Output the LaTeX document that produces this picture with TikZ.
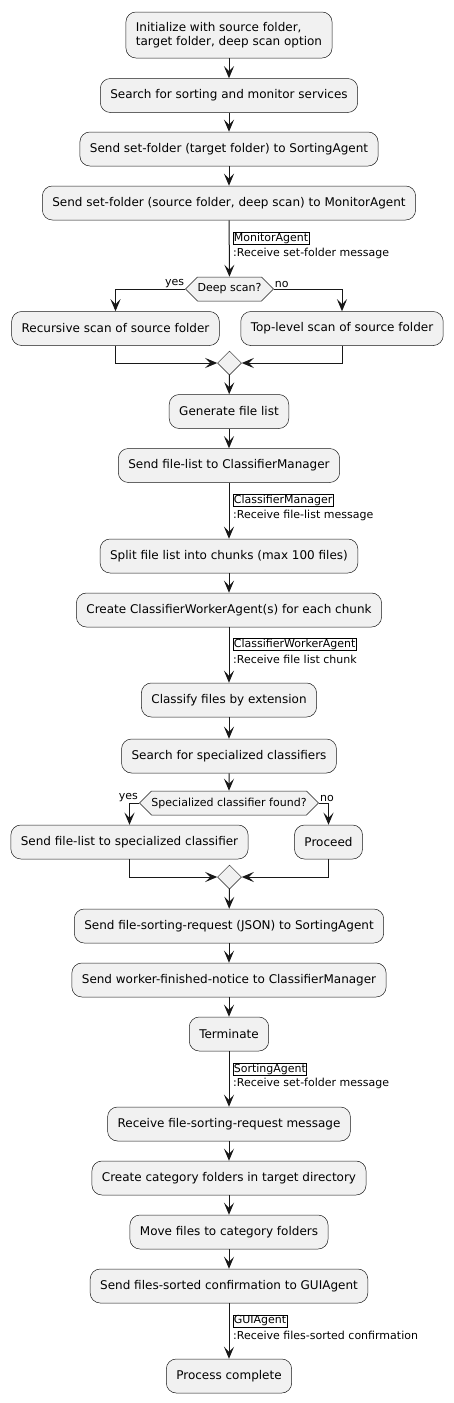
\documentclass[tikz,border=0pt]{standalone}
\usepackage{fontspec}
\setmainfont{DejaVu Sans}
\usepackage{xcolor}
\usepackage{tikz}
\usetikzlibrary{shapes,arrows,positioning,calc,arrows.meta}

\definecolor{actfill}{HTML}{F1F1F1}
\definecolor{actline}{HTML}{181818}

\tikzset{
    act/.style={draw=actline, line width=0.5pt, fill=actfill, rounded corners=10pt,
        minimum height=34pt, inner xsep=10pt, inner ysep=0pt, font=\fontsize{12}{14}\selectfont},
    decide/.style={signal, signal to=west and east, draw=actline, line width=0.5pt, fill=actfill,
        minimum height=24pt, inner xsep=0pt, inner ysep=0pt, font=\fontsize{11}{13}\selectfont},
    merge/.style={diamond, draw=actline, line width=0.5pt, fill=actfill,
        minimum width=24pt, minimum height=24pt, inner sep=0pt},
    flow/.style={draw=actline, line width=1pt, -{Stealth[length=12pt,width=10pt,inset=5pt]}},
    agent/.style={draw=black, line width=0.5pt, inner sep=0.6pt, anchor=west, font=\fontsize{11}{13}\selectfont},
    recv/.style={inner sep=0pt, anchor=west, font=\fontsize{11}{13}\selectfont},
    branch/.style={inner sep=1pt, font=\fontsize{11}{13}\selectfont}
}

\begin{document}
\begin{tikzpicture}[x=1pt, y=-1pt]
    \useasboundingbox (0,0) rectangle (454,1403);

    % Start and set-folder messages
    \node[act, align=left, minimum height=46pt] (init) at (229,35) {Initialize with source folder,\\target folder, deep scan option};
    \node[act] (services) at (229,95.5) {Search for sorting and monitor services};
    \node[act] (settarget) at (229,149) {Send set-folder (target folder) to SortingAgent};
    \node[act] (setsource) at (229,203) {Send set-folder (source folder, deep scan) to MonitorAgent};
    \draw[flow] (init) -- (services);
    \draw[flow] (services) -- (settarget);
    \draw[flow] (settarget) -- (setsource);

    % MonitorAgent
    \node[agent] (lbmonitor) at (233,238) {MonitorAgent};
    \node[recv] (rcmonitor) at (233,253) {:Receive set-folder message};
    \node[decide] (deepscan) at (229.5,289) {Deep scan?};
    \draw[flow] (setsource) -- (deepscan);
    \node[branch, anchor=south east] at (deepscan.west) {yes};
    \node[branch, anchor=south west] at (deepscan.east) {no};
    \node[act] (recscan) at (115.5,328.5) {Recursive scan of source folder};
    \node[act] (topscan) at (342,328.5) {Top-level scan of source folder};
    \node[merge] (scanmerge) at (229.5,363) {};
    \draw[flow] (deepscan.west) -| (recscan.north);
    \draw[flow] (deepscan.east) -| (topscan.north);
    \draw[flow] (recscan.south) |- (scanmerge.west);
    \draw[flow] (topscan.south) |- (scanmerge.east);
    \node[act] (genlist) at (229,411.5) {Generate file list};
    \node[act] (sendlist) at (229,465.5) {Send file-list to ClassifierManager};
    \draw[flow] (scanmerge) -- (genlist);
    \draw[flow] (genlist) -- (sendlist);

    % ClassifierManager
    \node[agent] (lbmanager) at (233,500) {ClassifierManager};
    \node[recv] (rcmanager) at (233,515) {:Receive file-list message};
    \node[act] (split) at (229,556) {Split file list into chunks (max 100 files)};
    \node[act] (workers) at (229,610) {Create ClassifierWorkerAgent(s) for each chunk};
    \draw[flow] (sendlist) -- (split);
    \draw[flow] (split) -- (workers);

    % ClassifierWorkerAgent
    \node[agent] (lbworker) at (233,644.5) {ClassifierWorkerAgent};
    \node[recv] (rcworker) at (233,659) {:Receive file list chunk};
    \node[act] (classify) at (229,700) {Classify files by extension};
    \node[act] (findspec) at (229,756) {Search for specialized classifiers};
    \node[decide] (specfound) at (229,803) {Specialized classifier found?};
    \draw[flow] (workers) -- (classify);
    \draw[flow] (classify) -- (findspec);
    \draw[flow] (findspec) -- (specfound);
    \node[branch, anchor=south east] at (specfound.west) {yes};
    \node[branch, anchor=south west] at (specfound.east) {no};
    \node[act] (sendspec) at (129.5,842) {Send file-list to specialized classifier};
    \node[act] (proceed) at (328.5,842) {Proceed};
    \node[merge] (specmerge) at (229.5,877) {};
    \draw[flow] (specfound.west) -| (sendspec.north);
    \draw[flow] (specfound.east) -| (proceed.north);
    \draw[flow] (sendspec.south) |- (specmerge.west);
    \draw[flow] (proceed.south) |- (specmerge.east);
    \node[act] (sortreq) at (229,926) {Send file-sorting-request (JSON) to SortingAgent};
    \node[act] (finished) at (229,980) {Send worker-finished-notice to ClassifierManager};
    \node[act] (terminate) at (229,1034) {Terminate};
    \draw[flow] (specmerge) -- (sortreq);
    \draw[flow] (sortreq) -- (finished);
    \draw[flow] (finished) -- (terminate);

    % SortingAgent
    \node[agent] (lbsorting) at (233,1069) {SortingAgent};
    \node[recv] (rcsorting) at (233,1083) {:Receive set-folder message};
    \node[act] (getreq) at (229,1124) {Receive file-sorting-request message};
    \node[act] (mkfolders) at (229,1178) {Create category folders in target directory};
    \node[act] (movefiles) at (229,1232) {Move files to category folders};
    \node[act] (confirm) at (229,1286) {Send files-sorted confirmation to GUIAgent};
    \draw[flow] (terminate) -- (getreq);
    \draw[flow] (getreq) -- (mkfolders);
    \draw[flow] (mkfolders) -- (movefiles);
    \draw[flow] (movefiles) -- (confirm);

    % GUIAgent
    \node[agent] (lbgui) at (233,1321) {GUIAgent};
    \node[recv] (rcgui) at (233,1335) {:Receive files-sorted confirmation};
    \node[act] (complete) at (229,1376) {Process complete};
    \draw[flow] (confirm) -- (complete);
\end{tikzpicture}
\end{document}
